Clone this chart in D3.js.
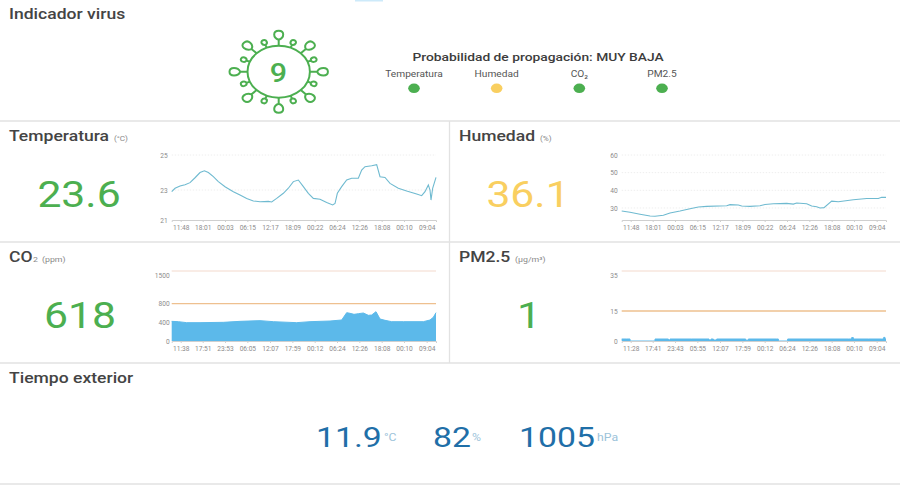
<!DOCTYPE html>
<html>
<head>
<meta charset="utf-8">
<script src="https://cdn.jsdelivr.net/npm/d3@7"></script>
<style>
    body { margin: 0; background: #fff; font-family: Roboto, sans-serif; }
    svg { display: block; }
    .axis text { font-family: Roboto, sans-serif; font-size: 6.6px; fill: #8c8c8c; }
    .axis line, .axis path { stroke: #cfcfcf; }
</style>
</head>
<body>
<svg id="chart" width="900" height="485"></svg>
<script>
// --- Data ---
const tempTicks = ['11:48', '18:01', '00:03', '06:15', '12:17', '18:09', '00:22', '06:24', '12:26', '18:08', '00:10', '09:04'];
const humTicks = ['11:48', '18:01', '00:03', '06:15', '12:17', '18:09', '00:22', '06:24', '12:26', '18:08', '00:10', '09:04'];
const co2Ticks = ['11:38', '17:51', '23:53', '06:05', '12:07', '17:59', '00:12', '06:24', '12:26', '18:08', '00:10', '09:04'];
const pmTicks = ['11:28', '17:41', '23:43', '05:55', '12:07', '17:59', '00:12', '06:24', '12:26', '18:08', '00:10', '09:04'];
const tickSamples = [27, 93, 160, 227, 295, 362, 429, 496, 563, 630, 697, 765];

const tempSamples = [0, 10, 25, 40, 55, 70, 85, 98, 110, 125, 140, 160, 185, 205, 225, 245, 265, 290, 300, 315, 335, 350, 365, 380, 395, 410, 425, 445, 465, 483, 490, 497, 510, 525, 540, 560, 570, 580, 600, 615, 625, 640, 655, 680, 705, 735, 750, 760, 770, 775, 778, 783, 793];
const tempValues = [22.89, 23.1, 23.23, 23.3, 23.42, 23.7, 24, 24.1, 24, 23.76, 23.48, 23.19, 22.89, 22.67, 22.44, 22.27, 22.22, 22.24, 22.2, 22.44, 22.78, 23.1, 23.48, 23.57, 23.19, 22.78, 22.44, 22.38, 22.16, 22, 22.1, 22.78, 23.19, 23.57, 23.67, 23.67, 24.14, 24.33, 24.39, 24.45, 23.76, 23.72, 23.38, 23.1, 22.93, 22.73, 22.62, 22.89, 23.29, 23, 22.33, 23.1, 23.72];

const humSamples = [0, 25, 55, 85, 100, 125, 145, 175, 205, 230, 255, 315, 325, 350, 360, 385, 415, 430, 455, 495, 515, 525, 555, 570, 585, 595, 607, 630, 650, 695, 735, 770, 780, 793];
const humValues = [28.3, 27.6, 26.5, 25.5, 25.3, 25.9, 27.2, 28.3, 29.6, 30.6, 30.9, 31.3, 31.9, 31.7, 31.1, 30.9, 31.3, 32, 32.4, 32.6, 32.2, 32.8, 32.4, 31.1, 30.7, 30, 30.2, 33.9, 33.5, 34.7, 35.4, 35.4, 36.1, 36];

const co2Samples = [0, 20, 45, 85, 155, 205, 265, 305, 375, 415, 475, 510, 525, 535, 547, 560, 575, 590, 600, 613, 625, 640, 660, 695, 755, 775, 785, 793];
const co2Values = [421, 414, 393, 393, 400, 421, 436, 414, 393, 414, 428, 450, 607, 593, 571, 585, 600, 550, 557, 628, 471, 443, 414, 414, 414, 450, 507, 607];

const pmSamples = [0, 15, 25, 93, 100, 140, 145, 210, 262, 268, 275, 285, 295, 372, 380, 385, 465, 470, 493, 498, 680, 690, 695, 740, 780, 786, 790, 793];
const pmValues = [1, 1, 0, 0, 1, 0.5, 1, 1, 0.5, 1, 0.5, 1, 1, 0.4, 1, 1, 1, 0, 0, 1, 1, 1.7, 1, 1, 1, 1.8, 1, 1];

const tempGrid = [25, 23];
const humGrid = [60, 50, 40, 30];
const co2Levels = [800, 1500];
const pmLevels = [15, 35];

const statusLabels = ['Temperatura', 'Humedad', 'CO₂', 'PM2.5'];
const statusColors = ['#4caf50', '#f9cf60', '#4caf50', '#4caf50'];

const bigAngles = [0, 45, 90, 135, 180, 225, 270, 315];
const smallAngles = [22.5, 67.5, 112.5, 157.5, 202.5, 247.5, 292.5, 337.5];

// --- Constants ---
const green = '#4caf50';
const yellow = '#f9cf60';
const lineBlue = '#6fbad0';
const areaBlue = '#5cb9ea';
const stretch = 1.17; // the whole picture is a bit wider than tall

const svg = d3.select('#chart');

// --- Helpers ---
function label(text, x, y, opts = {}) {
    return svg.append('text')
        .attr('transform', `translate(${x},${y}) scale(${opts.stretch || stretch},1)`)
        .attr('text-anchor', opts.anchor || 'start')
        .attr('font-size', opts.size || 12)
        .attr('font-weight', opts.weight || 400)
        .attr('fill', opts.color || '#444')
        .text(text);
}

function drawChart(cfg) {
    const x = d3.scaleLinear().domain([0, 793]).range(cfg.xRange);
    const y = d3.scaleLinear().domain(cfg.yDomain).range(cfg.yRange);

    svg.append('g').selectAll('line')
        .data(cfg.grid)
        .join('line')
        .attr('x1', cfg.xRange[0])
        .attr('x2', cfg.xRange[1])
        .attr('y1', d => y(d))
        .attr('y2', d => y(d))
        .attr('stroke', '#eeeeee')
        .attr('stroke-dasharray', '1.5,1.5');

    if (cfg.levels) {
        svg.append('g').selectAll('line')
            .data(cfg.levels)
            .join('line')
            .attr('x1', cfg.xRange[0])
            .attr('x2', cfg.xRange[1])
            .attr('y1', d => y(d))
            .attr('y2', d => y(d))
            .attr('stroke', (d, i) => i === 0 ? '#eec08f' : '#f3d9cc')
            .attr('stroke-width', (d, i) => i === 0 ? 1.3 : 1);
    }

    const pts = cfg.samples.map((s, i) => [s, cfg.values[i]]);
    if (cfg.area) {
        const area = d3.area().x(d => x(d[0])).y0(y(cfg.base)).y1(d => y(d[1]));
        if (cfg.curve) area.curve(cfg.curve);
        svg.append('path').attr('d', area(pts)).attr('fill', areaBlue);
    }
    const line = d3.line().x(d => x(d[0])).y(d => y(d[1]));
    if (cfg.curve) line.curve(cfg.curve);
    svg.append('path')
        .attr('d', line(pts))
        .attr('fill', 'none')
        .attr('stroke', cfg.area ? areaBlue : lineBlue)
        .attr('stroke-width', cfg.area ? 1 : 1.1);

    const xAxis = d3.axisBottom(x)
        .tickValues(tickSamples)
        .tickFormat((d, i) => cfg.ticks[i])
        .tickSize(2)
        .tickPadding(3.5);
    svg.append('g')
        .attr('class', 'axis')
        .attr('transform', `translate(0,${cfg.yRange[0]})`)
        .call(xAxis);

    const yAxis = d3.axisLeft(y)
        .tickValues(cfg.yTicks)
        .tickFormat(d => d)
        .tickSize(0)
        .tickPadding(cfg.yPad);
    const yg = svg.append('g')
        .attr('class', 'axis')
        .attr('transform', `translate(${cfg.xRange[0]},0)`)
        .call(yAxis);
    yg.select('.domain').remove();
    // top label of the threshold charts sits a little under its line
    if (cfg.levels) {
        yg.selectAll('.tick text').filter(d => d === d3.max(cfg.yTicks)).attr('dy', '1em');
    }
}

// --- Panel frames ---
svg.append('rect').attr('x', 355).attr('y', 0).attr('width', 28).attr('height', 1.5).attr('fill', '#cdeafa');
svg.append('g').selectAll('line')
    .data([121, 242, 363, 484])
    .join('line')
    .attr('x1', 0)
    .attr('x2', 900)
    .attr('y1', d => d)
    .attr('y2', d => d)
    .attr('stroke', '#e2e2e2')
    .attr('stroke-width', 1.3);
svg.append('line').attr('x1', 449.5).attr('x2', 449.5).attr('y1', 121).attr('y2', 363)
    .attr('stroke', '#e2e2e2').attr('stroke-width', 1.3);

// --- Virus indicator ---
label('Indicador virus', 9, 19, { size: 15, weight: 500 });

const virus = svg.append('g').attr('transform', 'translate(278.7,71.7) scale(1.2,1)');
const virusStyle = sel => sel
    .attr('fill', 'none')
    .attr('stroke', green)
    .attr('stroke-width', 2)
    .attr('vector-effect', 'non-scaling-stroke');
virus.append('circle').attr('r', 26).call(virusStyle);
virus.selectAll('path.big')
    .data(bigAngles)
    .join('path')
    .attr('class', 'big')
    .attr('transform', d => `rotate(${d})`)
    .attr('d', 'M0,-26L0,-32C-5,-34 -5,-41 0,-41C5,-41 5,-34 0,-32')
    .call(virusStyle);
virus.selectAll('path.small')
    .data(smallAngles)
    .join('path')
    .attr('class', 'small')
    .attr('transform', d => `rotate(${d})`)
    .attr('d', 'M0,-26L0,-29C-3,-29.5 -3,-34 0,-34C3,-34 3,-29.5 0,-29')
    .call(virusStyle);
label('9', 278.5, 81.5, { size: 26, weight: 500, color: green, anchor: 'middle' });

label('Probabilidad de propagación: MUY BAJA', 538, 60.5, { size: 11.8, weight: 500, anchor: 'middle', color: '#3c3c3c' });

const statusX = d3.scalePoint().domain(statusLabels).range([414, 662]);
statusLabels.forEach(name => {
    label(name, statusX(name), 77, { size: 8.7, anchor: 'middle', color: '#555' });
});
svg.append('g').selectAll('ellipse')
    .data(statusLabels)
    .join('ellipse')
    .attr('cx', d => statusX(d))
    .attr('cy', 88.3)
    .attr('rx', 5.8)
    .attr('ry', 4.8)
    .attr('fill', (d, i) => statusColors[i]);

// --- Temperatura ---
label('Temperatura', 9, 140.5, { size: 15, weight: 500 });
label('(°C)', 114, 140.5, { size: 7, color: '#888' });
label('23.6', 79, 207, { size: 36.5, color: green, anchor: 'middle' });
drawChart({
    samples: tempSamples, values: tempValues, ticks: tempTicks, grid: tempGrid,
    xRange: [171.7, 436], yDomain: [21, 23, 25], yRange: [220, 190, 155],
    yTicks: [21, 23, 25], yPad: 4
});

// --- Humedad ---
label('Humedad', 459, 140.5, { size: 15, weight: 500 });
label('(%)', 540, 140.5, { size: 7, color: '#888' });
label('36.1', 528, 207, { size: 36.5, color: yellow, anchor: 'middle' });
drawChart({
    samples: humSamples, values: humValues, ticks: humTicks, grid: humGrid,
    xRange: [621.7, 886], yDomain: [23.2, 60], yRange: [220, 155],
    yTicks: [30, 40, 50, 60], yPad: 4
});

// --- CO2 ---
label('CO', 9, 262, { size: 15, weight: 500 });
label('2', 33, 262, { size: 7.5, color: '#888' });
label('(ppm)', 42, 262, { size: 7.5, color: '#888' });
label('618', 80, 328, { size: 36.5, color: green, anchor: 'middle' });
drawChart({
    samples: co2Samples, values: co2Values, ticks: co2Ticks, grid: [], levels: co2Levels,
    area: true, base: 0,
    xRange: [171.7, 436], yDomain: [0, 1500], yRange: [341, 271],
    yTicks: [0, 400, 800, 1500], yPad: 2
});

// --- PM2.5 ---
label('PM2.5', 459, 262, { size: 15, weight: 500 });
label('(µg/m³)', 515, 262, { size: 7.5, color: '#888' });
label('1', 529, 328, { size: 36.5, color: green, anchor: 'middle' });
drawChart({
    samples: pmSamples, values: pmValues, ticks: pmTicks, grid: [], levels: pmLevels,
    area: true, base: 0, curve: d3.curveStepAfter,
    xRange: [621.7, 886], yDomain: [0, 35], yRange: [341, 271],
    yTicks: [0, 15, 35], yPad: 4
});

// --- Tiempo exterior ---
const blue = '#1f6fa8';
const paleBlue = '#9cc3da';
label('Tiempo exterior', 9, 383, { size: 15, weight: 500 });
label('11.9', 316, 446.5, { size: 27, color: blue, stretch: 1.25 });
label('°C', 384, 441, { size: 10.5, color: paleBlue });
label('82', 433, 446.5, { size: 27, color: blue, stretch: 1.25 });
label('%', 472, 441, { size: 10.5, color: paleBlue });
label('1005', 519, 446.5, { size: 27, color: blue, stretch: 1.25 });
label('hPa', 597, 441, { size: 10.5, color: paleBlue });
</script>
</body>
</html>
